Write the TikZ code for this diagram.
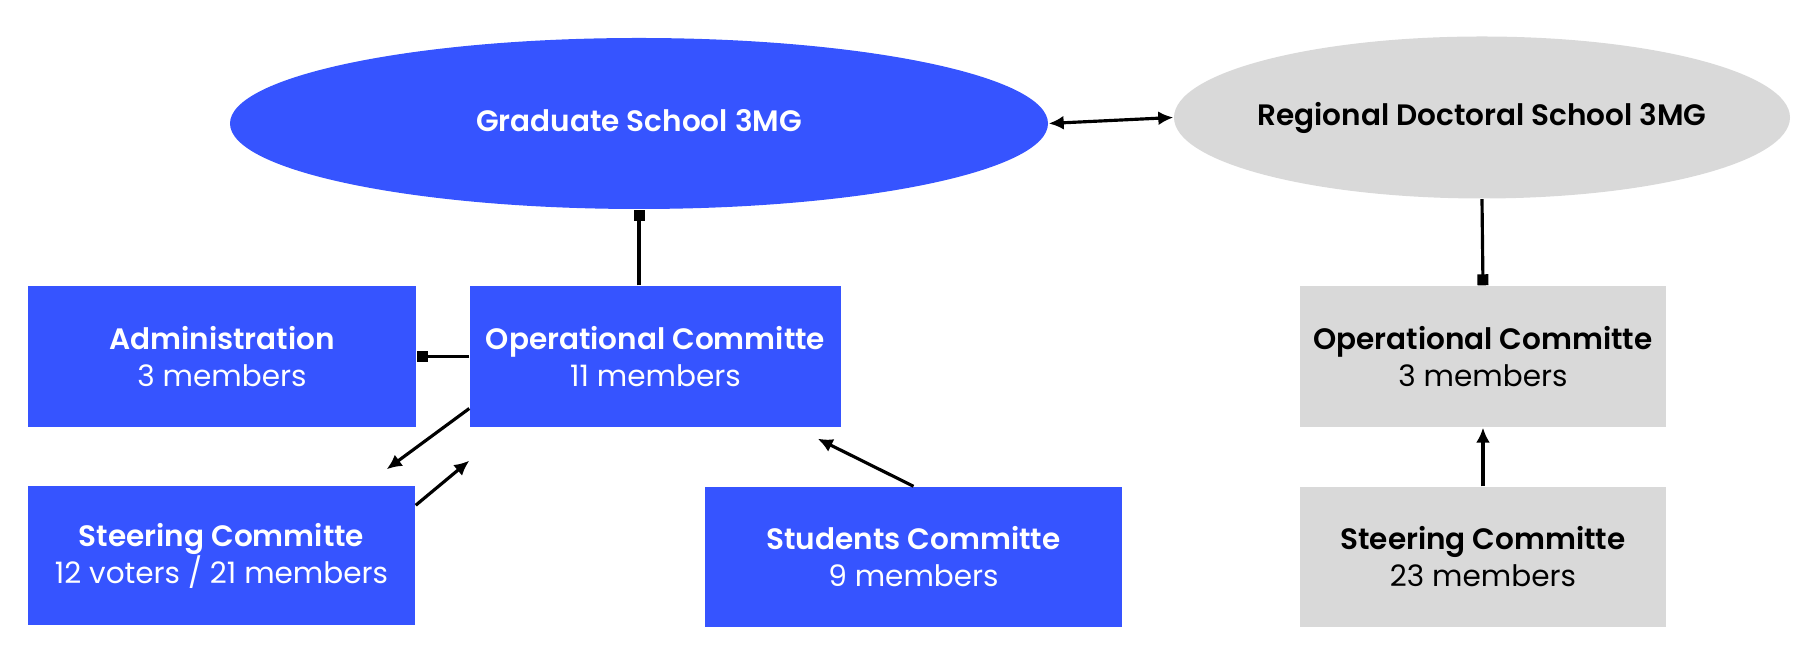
\documentclass[tikz,border=0pt]{standalone}
\usepackage{fontspec}
\setmainfont{Poppins}[BoldFont={Poppins SemiBold}]
\usetikzlibrary{arrows.meta,shapes.geometric}
\usepackage{xcolor}
\definecolor{gsblue}{RGB}{54,84,255}
\definecolor{rdsgray}{RGB}{217,217,217}

\begin{document}
\begin{tikzpicture}[>=stealth, font=\fontsize{8.4}{10.5}\selectfont]
\tikzset{bluebox/.style={fill=gsblue, text=white, inner sep=0pt, align=center} }
\tikzset{graybox/.style={fill=rdsgray, text=black, inner sep=0pt, align=center} }
\tikzset{>={Latex[width=1.4mm,length=1.5mm]}, link/.style={line width=0.9pt}}
\tikzset{sq/.style={-{Square[width=1.1mm,length=1.1mm]}}}
\useasboundingbox (0,0) rectangle (18.2,-6.45);
\node[bluebox, ellipse, minimum width=8.18cm, minimum height=1.71cm] (gs) at (6.39,-1.235) {\makebox[0pt]{\raisebox{0.06cm}{\textbf{Graduate School 3MG}}}};
\node[graybox, ellipse, minimum width=6.16cm, minimum height=1.62cm] (rds) at (14.82,-1.175) {\makebox[0pt]{\raisebox{-0.02cm}{\textbf{Regional Doctoral School 3MG}}}};
\node[bluebox, minimum width=3.88cm, minimum height=1.41cm] (admin) at (2.22,-3.565) {\textbf{Administration}\\3 members};
\node[bluebox, minimum width=3.71cm, minimum height=1.41cm] (opl) at (6.555,-3.565) {\textbf{Operational Committe}\\11 members};
\node[bluebox, minimum width=3.87cm, minimum height=1.39cm] (stl) at (2.215,-5.555) {\textbf{Steering Committe}\\12 voters / 21 members};
\node[bluebox, minimum width=4.17cm, minimum height=1.40cm] (stu) at (9.135,-5.57) {\textbf{Students Committe}\\9 members};
\node[graybox, minimum width=3.66cm, minimum height=1.41cm] (opr) at (14.83,-3.565) {\textbf{Operational Committe}\\3 members};
\node[graybox, minimum width=3.66cm, minimum height=1.40cm] (str) at (14.83,-5.57) {\textbf{Steering Committe}\\23 members};
\draw[link, <->] (gs.east) -- (rds.west);
\draw[link, sq] (gs.south |- opl.north) -- (gs.south);
\draw[link, sq] (opl.west) -- (admin.east);
\draw[link, ->] ([yshift=-0.52cm]opl.west) -- ([xshift=-0.29cm, yshift=0.16cm]stl.north east);
\draw[link, ->] ([yshift=-0.2cm]stl.north east) -- ([yshift=-0.33cm]opl.south west);
\draw[link, ->] (stu.north) -- ([xshift=-0.24cm, yshift=-0.11cm]opl.south east);
\draw[link, sq] (rds.south) -- (opr.north);
\draw[link, ->] (str.north) -- (opr.south);
\end{tikzpicture}
\end{document}
